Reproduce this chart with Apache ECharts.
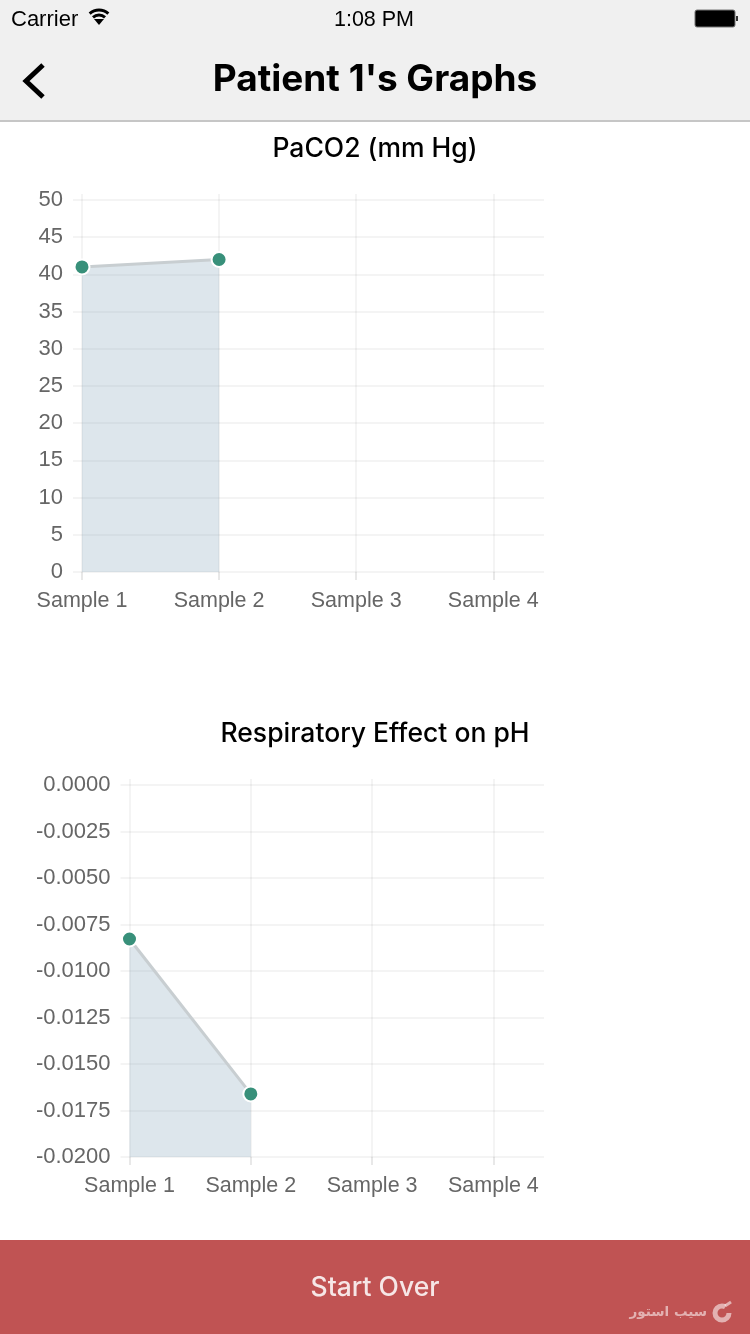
<!DOCTYPE html>
<html>
<head>
    <meta charset="utf-8">
    <title>Patient 1's Graphs</title>
    <style>
        html, body { margin: 0; padding: 0; background: #fff; }
        #main { width: 750px; height: 1334px; }
    </style>
</head>
<body>
<div id="main"></div>
<script src="https://cdn.jsdelivr.net/npm/echarts@6/dist/echarts.min.js"></script>
<script>
    // chart data
    var categories = ['Sample 1', 'Sample 2', 'Sample 3', 'Sample 4'];
    var paco2Values = [41, 42];
    var phValues = [-0.00828, -0.01661];
    var paco2Ticks = [0, 5, 10, 15, 20, 25, 30, 35, 40, 45, 50];
    var phTicks = [-0.02, -0.0175, -0.015, -0.0125, -0.01, -0.0075, -0.005, -0.0025, 0];
    var xPositions = [0, 1, 2, 3];

    var gridColor = 'rgba(0,0,0,0.045)';
    var tickColor = 'rgba(0,0,0,0.09)';
    var labelFont = '"Liberation Sans", Arial, sans-serif';
    var headFont = 'Inter, "Noto Sans", sans-serif';

    function toPoints(values) {
        return values.map(function (v, i) { return [xPositions[i], v]; });
    }

    function xAxis(index, max) {
        return {
            type: 'value', gridIndex: index, min: 0, max: max,
            axisLine: {show: false, onZero: false},
            axisTick: {show: true, length: 8, customValues: xPositions, lineStyle: {color: tickColor, width: 2}},
            splitLine: {show: true, lineStyle: {color: gridColor, width: 2}},
            axisLabel: {
                customValues: xPositions, margin: 18, color: '#666', fontSize: 21.5, fontFamily: labelFont,
                formatter: function (v) { return categories[v]; }
            }
        };
    }

    function yAxis(index, min, max, ticks, fmt) {
        return {
            type: 'value', gridIndex: index, min: min, max: max,
            axisLine: {show: false, onZero: false},
            axisTick: {show: true, length: 9, customValues: ticks, lineStyle: {color: gridColor, width: 2}},
            splitLine: {show: true, lineStyle: {color: gridColor, width: 2}},
            axisLabel: {
                customValues: ticks, margin: 19, color: '#666', fontSize: 22, fontFamily: labelFont,
                padding: [2, 0, 0, 0],
                formatter: fmt
            }
        };
    }

    function series(index, values) {
        return {
            type: 'line', xAxisIndex: index, yAxisIndex: index,
            data: toPoints(values),
            symbol: 'circle', symbolSize: 15,
            lineStyle: {color: '#c8ced1', width: 3},
            itemStyle: {color: '#38907a', borderColor: '#fff', borderWidth: 2},
            areaStyle: {color: 'rgba(150,178,196,0.32)', origin: 'start', opacity: 1},
            silent: true
        };
    }

    var myChart = echarts.init(document.getElementById('main'));
    myChart.setOption({
        animation: false,
        backgroundColor: '#fff',
        title: [
            {text: 'PaCO2 (mm Hg)', left: 370, top: 131, textAlign: 'center',
                textStyle: {fontFamily: headFont, fontSize: 26.5, fontWeight: 500, color: '#000'}},
            {text: 'Respiratory Effect on pH', left: 370, top: 716, textAlign: 'center',
                textStyle: {fontFamily: headFont, fontSize: 26.5, fontWeight: 500, color: '#000'}}
        ],
        grid: [
            {left: 82, right: 206, top: 194, height: 378},
            {left: 129.5, right: 206, top: 779, height: 378}
        ],
        xAxis: [xAxis(0, 3.37), xAxis(1, 3.417)],
        yAxis: [
            yAxis(0, 0, 50.8, paco2Ticks, function (v) { return String(v); }),
            yAxis(1, -0.02, 0.00032, phTicks, function (v) { return v.toFixed(4); })
        ],
        series: [series(0, paco2Values), series(1, phValues)],
        graphic: [
            // nav bar
            {type: 'rect', z: -1, shape: {x: 0, y: 0, width: 750, height: 120}, style: {fill: '#f0f0f0'}},
            {type: 'rect', z: -1, shape: {x: 0, y: 120, width: 750, height: 2}, style: {fill: '#c6c6c6'}},
            {type: 'text', x: 11, y: 9, style: {text: 'Carrier', font: '22px ' + labelFont, fill: '#000'}},
            {type: 'text', x: 374, y: 9, style: {text: '1:08 PM', font: '21.5px ' + labelFont, fill: '#000', textAlign: 'center'}},
            {type: 'text', x: 375, y: 61, style: {text: "Patient 1's Graphs", font: '700 37px ' + headFont, fill: '#000', textAlign: 'center'}},
            {type: 'polyline', shape: {points: [[43, 65], [26, 81], [43, 97]]},
                style: {stroke: '#000', lineWidth: 5, fill: null}},
            // wifi
            {type: 'arc', shape: {cx: 99, cy: 24, r: 14, startAngle: -2.3, endAngle: -0.84}, style: {stroke: '#000', lineWidth: 3, fill: null}},
            {type: 'arc', shape: {cx: 99, cy: 24, r: 9, startAngle: -2.3, endAngle: -0.84}, style: {stroke: '#000', lineWidth: 3, fill: null}},
            {type: 'polygon', shape: {points: [[94, 19], [104, 19], [99, 25]]}, style: {fill: '#000'}},
            // battery
            {type: 'rect', shape: {x: 695, y: 10, width: 40, height: 17, r: 2}, style: {fill: '#000', stroke: '#777', lineWidth: 1}},
            {type: 'rect', shape: {x: 736, y: 16, width: 2, height: 5}, style: {fill: '#333'}},
            // bottom button
            {type: 'rect', z: -1, shape: {x: 0, y: 1240, width: 750, height: 94}, style: {fill: '#c05353'}},
            {type: 'text', x: 375, y: 1275, style: {text: 'Start Over', font: '500 26.5px ' + headFont, fill: '#f6e6e6', textAlign: 'center'}},
            // watermark
            {type: 'text', x: 707, y: 1305, style: {text: 'سیب استور', font: '700 13.5px "DejaVu Sans"', fill: 'rgba(255,255,255,0.55)', textAlign: 'right'}},
            {type: 'arc', shape: {cx: 722, cy: 1313, r: 7, startAngle: 0, endAngle: 5.2}, style: {stroke: 'rgba(255,255,255,0.55)', lineWidth: 5, fill: null}},
            {type: 'line', shape: {x1: 725, y1: 1306, x2: 731, y2: 1302}, style: {stroke: 'rgba(255,255,255,0.55)', lineWidth: 3}}
        ]
    });
</script>
</body>
</html>
